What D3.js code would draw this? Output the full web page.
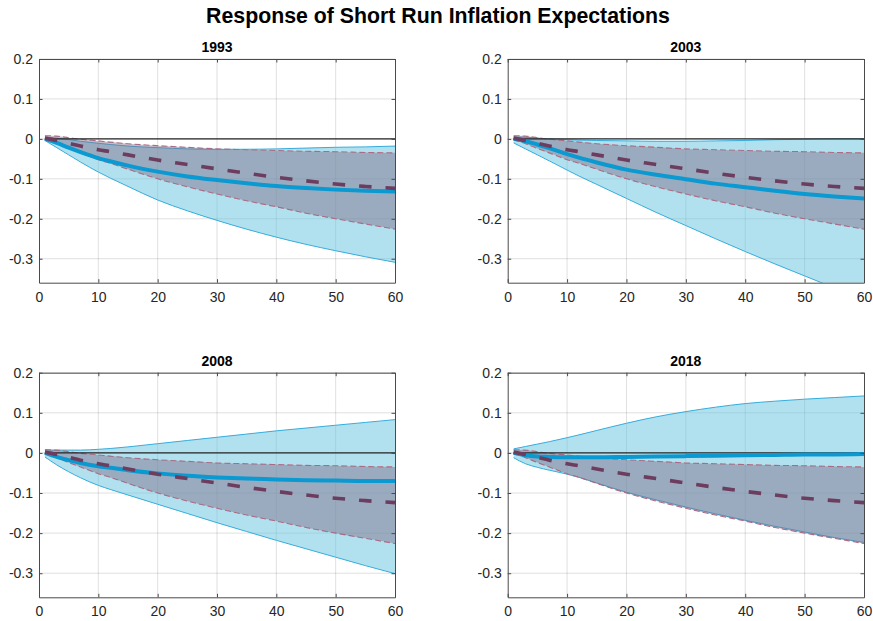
<!DOCTYPE html>
<html>
<head>
<meta charset="utf-8">
<script src="https://cdn.jsdelivr.net/npm/d3@7"></script>
<style>
  html, body { margin: 0; padding: 0; background: #ffffff; }
  svg { display: block; font-family: "Liberation Sans", Arial, Helvetica, sans-serif; }
</style>
</head>
<body>
<svg id="chart" width="873" height="621"></svg>
<script>
// Horizon (months) at which each response is reported
const steps = [1, 3, 5, 7, 10, 12, 15, 20, 25, 30, 35, 40, 45, 50, 55, 60];

// Benchmark response shown in every panel: median and error band
const benchMedian = [0.002, -0.004, -0.011, -0.018, -0.027, -0.032, -0.040, -0.053, -0.064, -0.075, -0.086, -0.096, -0.105, -0.113, -0.119, -0.124];
const benchUpper  = [0.008, 0.007, 0.003, -0.001, -0.005, -0.008, -0.012, -0.017, -0.021, -0.025, -0.027, -0.029, -0.031, -0.032, -0.034, -0.035];
const benchLower  = [-0.002, -0.012, -0.024, -0.035, -0.052, -0.061, -0.076, -0.100, -0.120, -0.138, -0.155, -0.170, -0.186, -0.200, -0.213, -0.226];

// Sub-sample responses: median and error band for each year
const years = ["1993", "2003", "2008", "2018"];

const median1993 = [0.000, -0.010, -0.022, -0.033, -0.048, -0.056, -0.067, -0.082, -0.094, -0.103, -0.111, -0.118, -0.123, -0.127, -0.130, -0.132];
const upper1993  = [0.004, 0.002, -0.002, -0.006, -0.011, -0.014, -0.018, -0.022, -0.025, -0.026, -0.026, -0.025, -0.023, -0.021, -0.020, -0.018];
const lower1993  = [-0.004, -0.022, -0.040, -0.058, -0.083, -0.098, -0.119, -0.153, -0.180, -0.204, -0.226, -0.246, -0.264, -0.280, -0.295, -0.309];

const median2003 = [0.000, -0.006, -0.014, -0.023, -0.038, -0.047, -0.059, -0.077, -0.090, -0.101, -0.112, -0.121, -0.130, -0.138, -0.144, -0.149];
const upper2003  = [0.005, 0.004, 0.002, 0.000, -0.002, -0.003, -0.004, -0.005, -0.006, -0.006, -0.005, -0.004, -0.002, -0.001, 0.000, 0.000];
const lower2003  = [-0.010, -0.025, -0.040, -0.055, -0.078, -0.093, -0.114, -0.149, -0.184, -0.217, -0.250, -0.282, -0.313, -0.343, -0.373, -0.402];

const median2008 = [0.000, -0.010, -0.018, -0.025, -0.033, -0.037, -0.043, -0.051, -0.057, -0.061, -0.064, -0.066, -0.068, -0.069, -0.070, -0.070];
const upper2008  = [0.008, 0.007, 0.007, 0.007, 0.009, 0.011, 0.015, 0.023, 0.031, 0.039, 0.047, 0.055, 0.062, 0.069, 0.076, 0.083];
const lower2008  = [-0.010, -0.030, -0.047, -0.062, -0.081, -0.091, -0.105, -0.128, -0.151, -0.174, -0.196, -0.218, -0.239, -0.260, -0.281, -0.301];

const median2018 = [0.000, -0.006, -0.009, -0.010, -0.011, -0.011, -0.011, -0.010, -0.009, -0.008, -0.007, -0.006, -0.005, -0.004, -0.004, -0.003];
const upper2018  = [0.010, 0.016, 0.022, 0.028, 0.038, 0.045, 0.056, 0.074, 0.090, 0.103, 0.114, 0.123, 0.129, 0.134, 0.138, 0.142];
const lower2018  = [-0.012, -0.027, -0.036, -0.043, -0.053, -0.061, -0.075, -0.098, -0.117, -0.135, -0.152, -0.168, -0.183, -0.197, -0.211, -0.223];

// Axis ticks
const xTicks = [0, 10, 20, 30, 40, 50, 60];
const yTicks = [-0.3, -0.2, -0.1, 0, 0.1, 0.2];
const xDomain = [0, 60];
const yDomain = [-0.36, 0.2];

const chartTitle = "Response of Short Run Inflation Expectations";

const series = {
  "1993": { median: median1993, upper: upper1993, lower: lower1993 },
  "2003": { median: median2003, upper: upper2003, lower: lower2003 },
  "2008": { median: median2008, upper: upper2008, lower: lower2008 },
  "2018": { median: median2018, upper: upper2018, lower: lower2018 }
};

// ---- layout -------------------------------------------------------------
const svg = d3.select("#chart");
const colEdges = [[39, 395], [507.7, 864]];
const rowEdges = [[59, 282.7], [372.7, 597.3]];
const textColor = "#262626";

svg.append("text")
  .attr("x", 438)
  .attr("y", 23)
  .attr("text-anchor", "middle")
  .attr("font-size", 21.3)
  .attr("font-weight", "bold")
  .attr("fill", "#000")
  .text(chartTitle);

const curve = d3.curveMonotoneX;

years.forEach((year, i) => {
  const [xl, xr] = colEdges[i % 2];
  const [yt, yb] = rowEdges[Math.floor(i / 2)];
  const x = d3.scaleLinear().domain(xDomain).range([xl, xr]);
  const y = d3.scaleLinear().domain(yDomain).range([yb, yt]);
  const s = series[year];

  const g = svg.append("g");
  const clipId = "clip-" + year;
  g.append("clipPath").attr("id", clipId)
    .append("rect")
    .attr("x", xl).attr("y", yt)
    .attr("width", xr - xl).attr("height", yb - yt);

  // grid
  const grid = g.append("g").attr("stroke", "#262626").attr("stroke-opacity", 0.14).attr("stroke-width", 1);
  xTicks.slice(1, -1).forEach(t => {
    grid.append("line").attr("x1", x(t)).attr("x2", x(t)).attr("y1", yt).attr("y2", yb);
  });
  yTicks.forEach(t => {
    grid.append("line").attr("x1", xl).attr("x2", xr).attr("y1", y(t)).attr("y2", y(t));
  });

  const plot = g.append("g").attr("clip-path", `url(#${clipId})`);

  const idx = d3.range(steps.length);
  const area = (up, lo) => d3.area()
    .x(k => x(steps[k])).y0(k => y(lo[k])).y1(k => y(up[k])).curve(curve)(idx);
  const line = (vals) => d3.line()
    .x(k => x(steps[k])).y(k => y(vals[k])).curve(curve)(idx);

  // sub-sample error band
  plot.append("path").attr("d", area(s.upper, s.lower))
    .attr("fill", "rgb(100,195,222)").attr("fill-opacity", 0.5).attr("stroke", "none");
  [s.upper, s.lower].forEach(v => {
    plot.append("path").attr("d", line(v))
      .attr("fill", "none").attr("stroke", "#35acdc").attr("stroke-width", 1);
  });

  // benchmark band edges and shading
  [benchUpper, benchLower].forEach(v => {
    plot.append("path").attr("d", line(v))
      .attr("fill", "none").attr("stroke", "#b86c84").attr("stroke-width", 1.1)
      .attr("stroke-dasharray", "6,3");
  });
  plot.append("path").attr("d", area(benchUpper, benchLower))
    .attr("fill", "rgb(126,107,133)").attr("fill-opacity", 0.45).attr("stroke", "none");

  // zero line
  plot.append("line")
    .attr("x1", x(1)).attr("x2", x(60)).attr("y1", y(0)).attr("y2", y(0))
    .attr("stroke", "#262626").attr("stroke-width", 1.2);

  // medians
  plot.append("path").attr("d", line(s.median))
    .attr("fill", "none").attr("stroke", "#0a99d0").attr("stroke-width", 4);
  plot.append("path").attr("d", line(benchMedian))
    .attr("fill", "none").attr("stroke", "#6c3d5e").attr("stroke-width", 3.6)
    .attr("stroke-dasharray", "12.5,14");

  // axes with inward ticks on all four sides
  const axisStyle = sel => {
    sel.selectAll("path.domain").attr("stroke", "#4a4a4a").attr("stroke-width", 1);
    sel.selectAll(".tick line").attr("stroke", "#4a4a4a");
    sel.selectAll(".tick text").attr("fill", textColor).attr("font-size", 14)
      .attr("font-family", "'Liberation Sans', Arial, sans-serif");
  };
  g.append("g").attr("transform", `translate(0,${yb})`)
    .call(d3.axisBottom(x).tickValues(xTicks).tickFormat(d => String(d))
      .tickSizeInner(-3.5).tickSizeOuter(0).tickPadding(9))
    .call(axisStyle);
  g.append("g").attr("transform", `translate(${xl},0)`)
    .call(d3.axisLeft(y).tickValues(yTicks).tickFormat(d => String(d))
      .tickSizeInner(-3.5).tickSizeOuter(0).tickPadding(6))
    .call(axisStyle);
  g.append("g").attr("transform", `translate(0,${yt})`)
    .call(d3.axisTop(x).tickValues(xTicks).tickFormat("").tickSizeInner(-3.5).tickSizeOuter(0))
    .call(axisStyle);
  g.append("g").attr("transform", `translate(${xr},0)`)
    .call(d3.axisRight(y).tickValues(yTicks).tickFormat("").tickSizeInner(-3.5).tickSizeOuter(0))
    .call(axisStyle);

  // panel title
  g.append("text")
    .attr("x", (xl + xr) / 2)
    .attr("y", yt - 7)
    .attr("text-anchor", "middle")
    .attr("font-size", 14)
    .attr("font-weight", "bold")
    .attr("fill", "#000")
    .text(year);
});
</script>
</body>
</html>
